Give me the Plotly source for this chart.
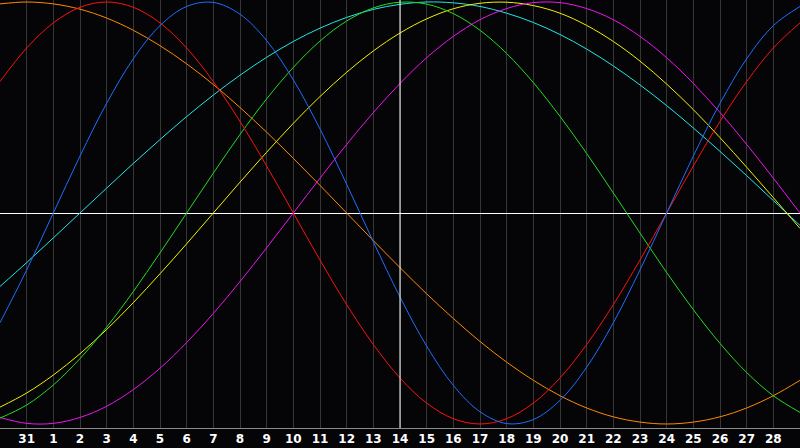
import plotly.graph_objs as go

# Positions des jours sur l'axe (0 = bord gauche, 15 = aujourd'hui)
positions = list(range(31))

# Etiquettes des jours (placées sur les lignes 1 à 29)
tick_positions = list(range(1, 30))
day_labels = ["31"] + [str(d) for d in range(1, 29)]

physique = [-0.520, -0.270, 0.000, 0.270, 0.520, 0.731, 0.888, 0.979, 0.998, 0.942, 0.817,
            0.631, 0.398, 0.136, -0.136, -0.398, -0.631, -0.817, -0.942, -0.998, -0.979,
            -0.888, -0.731, -0.520, -0.270, 0.000, 0.270, 0.520, 0.731, 0.888, 0.979]
emotionnel = [0.623, 0.782, 0.901, 0.975, 1.000, 0.975, 0.901, 0.782, 0.623, 0.434, 0.223,
              0.000, -0.223, -0.434, -0.623, -0.782, -0.901, -0.975, -1.000, -0.975, -0.901,
              -0.782, -0.623, -0.434, -0.223, 0.000, 0.223, 0.434, 0.623, 0.782, 0.901]
intellectuel = [-0.972, -0.910, -0.815, -0.690, -0.541, -0.372, -0.189, 0.000, 0.189, 0.372, 0.541,
                0.690, 0.815, 0.910, 0.972, 0.999, 0.990, 0.945, 0.866, 0.756, 0.618,
                0.458, 0.282, 0.095, -0.095, -0.282, -0.458, -0.618, -0.756, -0.866, -0.945]
intuitif = [-0.969, -0.997, -0.997, -0.969, -0.916, -0.837, -0.736, -0.614, -0.476, -0.325, -0.165,
            0.000, 0.165, 0.325, 0.476, 0.614, 0.736, 0.837, 0.916, 0.969, 0.997,
            0.997, 0.969, 0.916, 0.837, 0.736, 0.614, 0.476, 0.325, 0.165, 0.000]
esthetique = [-0.920, -0.853, -0.768, -0.667, -0.552, -0.425, -0.288, -0.146, 0.000, 0.146, 0.288,
              0.425, 0.552, 0.667, 0.768, 0.853, 0.920, 0.968, 0.994, 0.999, 0.983,
              0.947, 0.889, 0.813, 0.720, 0.611, 0.490, 0.357, 0.217, 0.073, -0.073]
conscience = [0.991, 1.000, 0.991, 0.966, 0.924, 0.866, 0.793, 0.707, 0.609, 0.500, 0.383,
              0.259, 0.131, 0.000, -0.131, -0.259, -0.383, -0.500, -0.609, -0.707, -0.793,
              -0.866, -0.924, -0.966, -0.991, -1.000, -0.991, -0.966, -0.924, -0.866, -0.793]
spirituel = [-0.348, -0.235, -0.118, 0.000, 0.118, 0.235, 0.348, 0.457, 0.559, 0.653, 0.738,
             0.813, 0.876, 0.927, 0.965, 0.989, 1.000, 0.996, 0.979, 0.947, 0.903,
             0.846, 0.777, 0.697, 0.607, 0.509, 0.403, 0.292, 0.177, 0.059, -0.059]

today_position = 15

series = [
    ("Spirituel", spirituel, "#22e6e6"),
    ("Conscience", conscience, "#ff8a00"),
    ("Esthétique", esthetique, "#f2f200"),
    ("Intuitif", intuitif, "#f014f0"),
    ("Intellectuel", intellectuel, "#22dc22"),
    ("Emotionnel", emotionnel, "#ff1010"),
    ("Physique", physique, "#1e6eff"),
]

fig = go.Figure()

# Une courbe par cycle
for name, values, color in series:
    fig.add_trace(go.Scatter(
        x=positions, y=values, mode="lines", name=name,
        line=dict(color=color, width=1, shape="spline", smoothing=1),
        hoverinfo="skip",
    ))

# Ligne verticale blanche pour le jour courant
fig.add_vline(x=today_position, line=dict(color="white", width=1))

fig.update_xaxes(
    range=[0, 30],
    tickmode="array",
    tickvals=tick_positions,
    ticktext=day_labels,
    tickfont=dict(family="DejaVu Sans", size=12, color="white", weight="bold"),
    ticks="",
    showgrid=True,
    gridcolor="#363636",
    gridwidth=1,
    showline=True,
    linecolor="#8c8c8c",
    linewidth=1,
    mirror=True,
    zeroline=False,
    fixedrange=True,
)
fig.update_yaxes(
    range=[-1.019, 1.0095],
    showticklabels=False,
    ticks="",
    showgrid=False,
    zeroline=True,
    zerolinecolor="white",
    zerolinewidth=1,
    showline=True,
    linecolor="#8c8c8c",
    linewidth=1,
    fixedrange=True,
)

fig.update_layout(
    width=800,
    height=448,
    margin=dict(l=0, r=0, t=0, b=20),
    paper_bgcolor="#050508",
    plot_bgcolor="#050508",
    showlegend=False,
)

# Pas de marge de page ni de barre d'outils autour du graphique
fig.write_html(
    "out.html",
    config={"displayModeBar": False},
    post_script="document.body.style.margin='0';",
)
